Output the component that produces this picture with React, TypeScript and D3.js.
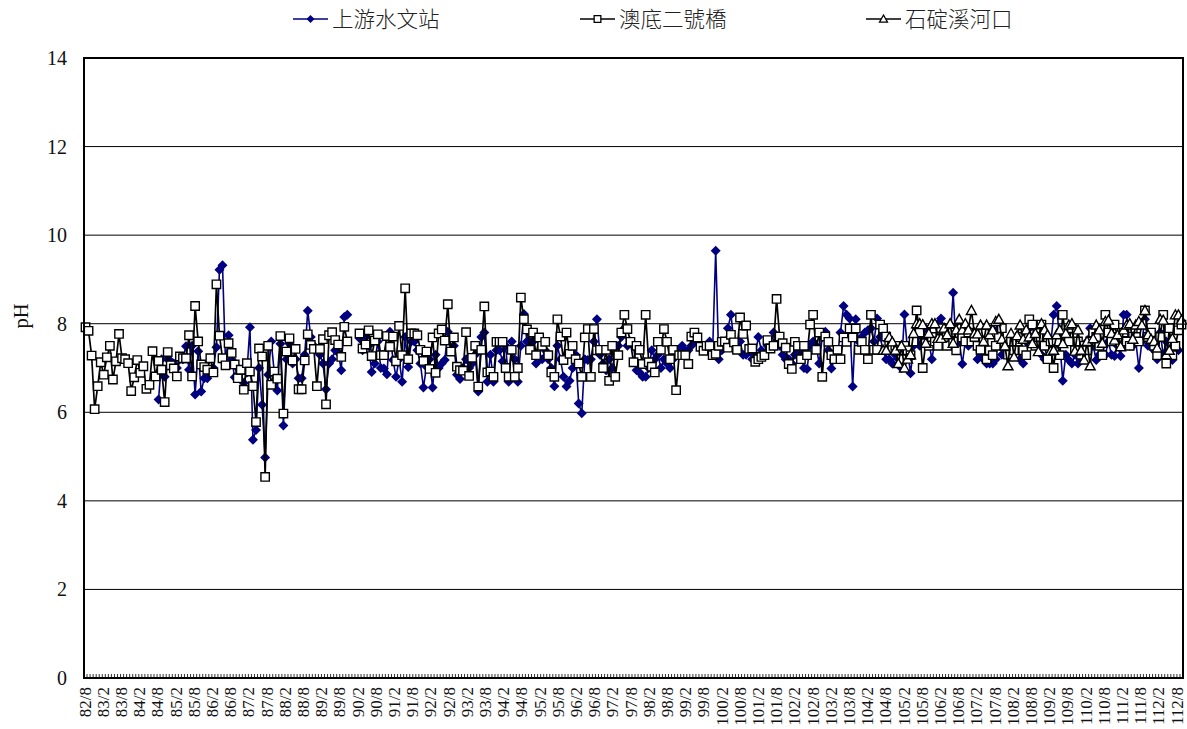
import React, { useEffect, useRef } from "react";
import * as d3 from "d3";

const tickLabels: string[] = [
  "82/8","83/2","83/8","84/2","84/8","85/2","85/8","86/2","86/8","87/2","87/8","88/2","88/8","89/2","89/8",
  "90/2","90/8","91/2","91/8","92/2","92/8","93/2","93/8","94/2","94/8","95/2","95/8","96/2","96/8","97/2","97/8",
  "98/2","98/8","99/2","99/8","100/2","100/8","101/2","101/8","102/2","102/8","103/2","103/8","104/2","104/8",
  "105/2","105/8","106/2","106/8","107/2","107/8","108/2","108/8","109/2","109/8","110/2","110/8","111/2","111/8","112/2","112/8",
];
const monthsPerLabel = 6;
const yTicks = [0, 2, 4, 6, 8, 10, 12, 14];

const upstreamStart = 24;
const upstream: (number | null)[] = [
  6.29,7.2,6.8,7.2,7.15,7.1,
  7.0,7.2,7.2,7.49,6.96,7.5,6.4,7.38,6.47,6.77,
  6.77,6.9,7.0,7.47,9.22,9.32,7.1,7.74,7.2,6.79,
  7.0,6.9,6.66,6.9,7.92,5.38,5.6,7.0,6.17,4.98,
  6.85,7.6,6.9,6.49,7.55,5.7,7.2,7.55,7.1,7.2,
  6.77,6.77,7.3,8.29,7.7,7.5,7.4,7.3,7.1,6.52,
  7.1,7.2,7.4,7.35,6.95,8.15,8.2,null,null,null,
  7.67,7.4,7.7,7.5,6.91,7.1,7.6,7.0,6.99,6.86,
  7.82,7.18,6.8,7.2,6.69,7.7,7.02,7.6,7.6,7.4,
  7.1,6.56,7.03,7.2,6.56,7.3,7.0,7.1,7.18,7.82,
  7.4,7.5,6.85,6.75,7.0,7.2,7.0,7.1,7.3,6.47,
  7.7,7.8,6.69,7.3,6.69,7.4,7.4,7.15,7.5,6.69,
  7.6,7.2,6.69,7.5,8.22,7.6,7.6,7.6,7.1,7.2,
  7.2,7.4,7.2,7.0,6.59,7.5,7.2,6.8,6.58,6.71,
  7.0,7.3,6.2,5.98,7.2,7.18,7.2,7.6,8.1,7.3,
  7.1,6.95,7.2,7.0,7.3,7.5,7.7,7.9,7.5,7.6,
  7.5,6.95,6.9,6.8,6.8,7.0,7.4,7.2,7.3,7.0,
  7.2,7.1,7.0,7.2,7.3,7.4,7.5,7.4,7.4,7.5,
  7.6,7.6,7.5,7.4,7.5,7.6,7.4,9.65,7.2,7.4,
  7.5,7.9,8.2,7.6,7.5,7.6,7.3,7.3,7.4,7.2,
  7.3,7.7,7.4,7.3,7.5,7.5,7.8,7.6,7.5,7.3,
  7.2,7.2,7.1,7.3,7.4,7.3,7.0,6.98,7.5,7.6,
  7.5,7.1,7.7,7.82,7.4,6.99,7.2,7.3,7.8,8.4,
  8.2,8.12,6.58,8.1,7.6,7.7,7.8,7.85,7.9,7.6,
  8.12,7.7,7.4,7.2,7.2,7.1,7.3,7.2,7.0,8.21,
  7.4,6.88,7.5,7.9,7.5,7.7,7.9,7.6,7.2,7.6,
  8.0,8.12,7.9,7.5,7.6,8.7,7.4,7.6,7.09,7.6,
  7.5,7.6,7.7,7.2,7.3,7.2,7.1,7.1,7.1,7.2,
  7.9,7.3,7.5,7.3,7.6,7.5,7.5,7.2,7.1,7.6,
  7.9,7.6,7.5,7.7,7.3,7.2,7.2,7.5,8.2,8.4,
  7.6,6.71,7.3,7.18,7.1,7.3,7.1,7.2,7.4,7.6,
  7.9,7.5,7.18,7.3,7.5,7.3,7.6,7.3,7.27,7.5,
  7.27,8.2,8.2,7.5,7.5,7.6,7.0,7.6,8.1,7.5,
  7.6,7.4,7.2,7.8,7.3,7.6,7.3,7.18,7.4,7.4,
];

const aodi: (number | null)[] = [
  7.92,7.84,7.28,6.07,6.59,7.13,6.85,7.24,7.5,6.74,
  7.15,7.77,7.22,7.2,7.11,6.48,6.79,7.18,6.89,7.04,
  6.53,6.62,7.38,6.81,7.16,6.96,6.23,7.36,7.06,6.99,
  6.81,7.26,7.22,7.22,7.74,6.81,8.4,7.6,7.08,7.02,
  6.96,7.22,6.9,8.89,7.73,7.22,7.06,7.56,7.34,7.08,
  6.77,6.96,6.51,7.11,6.92,6.59,5.78,7.44,7.26,4.54,
  7.5,6.62,6.92,6.76,7.72,5.97,7.37,7.67,7.17,7.43,
  6.52,6.52,7.17,7.76,7.52,7.43,6.59,7.43,7.65,6.18,
  7.74,7.81,7.63,7.53,7.25,7.93,7.6,null,null,null,
  7.78,7.44,7.53,7.85,7.27,7.62,7.76,7.29,7.29,7.72,
  7.48,7.71,7.15,7.95,7.29,8.8,7.2,7.78,7.78,7.74,
  7.41,7.16,7.37,6.98,7.69,6.89,7.78,7.87,7.62,8.44,
  7.37,7.69,7.03,6.95,6.94,7.81,6.82,7.23,7.5,6.58,
  7.41,8.39,6.9,6.92,6.8,7.59,7.59,7.59,7.0,6.8,
  7.41,6.8,7.0,8.59,8.1,7.87,7.41,7.8,7.29,7.69,
  7.5,7.59,7.29,6.9,6.8,8.1,7.71,7.18,7.8,7.32,
  7.5,7.2,7.1,6.8,7.69,7.88,6.8,7.88,7.4,7.41,
  7.0,7.41,6.71,7.5,6.8,7.29,7.8,8.2,7.88,7.59,
  7.13,7.5,7.41,7.09,8.2,7.13,7.03,6.9,7.59,7.41,
  7.88,7.59,7.2,7.41,6.5,7.29,7.29,7.29,7.09,7.71,
  7.8,7.69,7.48,7.39,7.5,7.5,7.29,7.32,7.5,7.59,
  7.6,7.46,7.75,7.58,7.41,8.14,7.77,7.96,7.43,7.44,
  7.14,7.2,7.25,7.29,7.63,7.44,7.5,8.56,7.71,7.56,
  7.46,7.09,6.98,7.59,7.5,7.2,7.5,7.29,7.98,8.2,
  7.41,7.8,6.8,7.71,7.59,7.29,7.2,7.41,7.2,7.69,
  7.59,7.89,7.69,7.89,7.41,7.59,7.41,7.2,8.2,7.41,
  7.41,7.98,7.89,7.71,7.56,7.45,7.5,7.4,7.2,7.5,
  7.4,7.29,7.6,8.3,7.8,7.0,7.56,7.5,7.7,7.6,
  7.5,7.9,7.7,7.5,7.8,7.6,7.4,7.9,7.69,7.6,
  7.8,7.6,7.7,7.5,7.41,7.6,7.2,7.4,7.29,7.5,
  7.7,7.9,7.5,7.3,7.6,7.4,7.6,7.7,7.4,7.29,
  8.1,7.98,7.5,7.7,7.98,7.5,7.2,7.6,7.0,7.6,
  7.29,8.2,7.7,7.6,7.9,7.4,7.6,7.3,7.5,7.4,
  7.6,7.8,7.7,7.5,7.29,8.2,7.8,7.6,7.98,7.7,
  7.5,7.8,7.6,7.5,7.9,7.7,7.6,8.0,8.3,7.7,
  7.8,7.5,7.29,7.7,8.2,7.1,7.9,7.29,7.5,7.85,
  7.98,
];

const shidingStart = 262;
const shiding: (number | null)[] = [
  7.4,7.4,7.69,7.59,7.4,7.1,7.5,7.0,
  7.2,7.3,7.78,8.0,8.0,7.98,7.56,7.78,8.0,8.0,
  7.67,7.67,7.9,7.75,8.0,7.56,7.86,8.1,7.86,8.0,
  7.86,8.3,7.78,7.77,7.97,7.6,7.97,7.75,7.86,8.05,
  8.1,7.65,7.5,7.05,7.78,7.25,7.73,7.97,7.65,7.86,
  7.7,7.55,7.78,7.37,8.0,7.86,7.75,7.38,7.4,7.75,
  7.86,7.55,7.78,7.97,8.0,7.38,7.86,7.4,7.18,7.6,
  7.05,7.66,7.97,7.86,7.56,8.05,8.08,7.78,7.63,7.75,
  7.48,7.86,7.97,8.0,7.65,7.97,8.05,7.97,8.3,7.75,
  7.65,7.6,7.45,8.1,8.08,7.3,7.4,7.67,8.2,8.2,
  8.08,
];

const legendNames = ["上游水文站", "澳底二號橋", "石碇溪河口"];
const navy = "#000080";

const W = 1187, H = 729;
const M = { left: 84, right: 1183, top: 58, bottom: 678 };

export default function App() {
  const ref = useRef<SVGSVGElement>(null);
  useEffect(() => {
    const svg = d3.select(ref.current!);
    svg.selectAll("*").remove();
    const monthCount = (tickLabels.length - 1) * monthsPerLabel + 1;
    const x = d3.scaleBand<number>().domain(d3.range(monthCount)).range([M.left, M.right]);
    const cx = (i: number) => x(i)! + x.bandwidth() / 2;
    const y = d3.scaleLinear().domain([0, 14]).range([M.bottom, M.top]);
    const labelX = d3.scaleLinear().domain([0, tickLabels.length - 1]).range([85, 1177]);
    const serif = "'Liberation Serif', serif";

    // gridlines
    svg.append("g").selectAll("line").data(yTicks.filter((t) => t > 0 && t < 14)).join("line")
      .attr("x1", M.left).attr("x2", M.right).attr("y1", (d) => y(d)).attr("y2", (d) => y(d))
      .attr("stroke", "#000").attr("stroke-width", 1);

    // y tick labels
    svg.append("g").selectAll("text").data(yTicks).join("text")
      .attr("x", 67).attr("y", (d) => y(d) + 7).attr("text-anchor", "end")
      .attr("font-family", serif).attr("font-size", 20).attr("fill", "#111").text((d) => d);

    svg.append("text").attr("transform", "translate(28,316) rotate(-90)")
      .attr("text-anchor", "middle").attr("font-family", serif).attr("font-size", 20.5).attr("fill", "#111").text("pH");

    // minor ticks
    svg.append("g").selectAll("line").data(d3.range(monthCount + 1)).join("line")
      .attr("x1", (d) => M.left + d * x.step()).attr("x2", (d) => M.left + d * x.step())
      .attr("y1", M.bottom).attr("y2", M.bottom - 4).attr("stroke", "#000").attr("stroke-width", 0.8);

    // x labels
    svg.append("g").selectAll("text").data(tickLabels).join("text")
      .attr("transform", (_, i) => `translate(${labelX(i) + 5.5},${M.bottom + 9}) rotate(-90)`)
      .attr("text-anchor", "end").attr("font-family", serif).attr("font-size", 17).attr("fill", "#111").text((d) => d);

    type P = { i: number; v: number | null };
    const toPts = (arr: (number | null)[], start: number): P[] => arr.map((v, k) => ({ i: k + start, v }));
    const line = d3.line<P>().defined((d) => d.v != null).x((d) => cx(d.i)).y((d) => y(d.v as number));

    const diamond = "M0,-5L5,0L0,5L-5,0Z";
    const square = "M-4.2,-4.2H4.2V4.2H-4.2Z";
    const triangle = "M0,-5L5,4H-5Z";

    const series = [
      { data: toPts(upstream, upstreamStart), color: navy, path: diamond, fill: navy, stroke: navy, w: 1.6 },
      { data: toPts(aodi, 0), color: "#000", path: square, fill: "#fff", stroke: "#000", w: 1.7 },
      { data: toPts(shiding, shidingStart), color: "#000", path: triangle, fill: "#fff", stroke: "#000", w: 1.7 },
    ];

    series.forEach((s) => {
      const g = svg.append("g");
      g.append("path").attr("d", line(s.data)!).attr("fill", "none").attr("stroke", s.color).attr("stroke-width", s.w);
      g.selectAll("path.m").data(s.data.filter((d) => d.v != null)).join("path").attr("class", "m")
        .attr("d", s.path).attr("transform", (d) => `translate(${cx(d.i)},${y(d.v as number)})`)
        .attr("fill", s.fill).attr("stroke", s.stroke).attr("stroke-width", s.fill === navy ? 0 : 1.4);
    });

    // frame
    svg.append("rect").attr("x", M.left).attr("y", M.top).attr("width", M.right - M.left).attr("height", M.bottom - M.top)
      .attr("fill", "none").attr("stroke", "#000").attr("stroke-width", 2);

    // legend
    const legX = [293, 580, 866];
    series.forEach((s, k) => {
      const g = svg.append("g").attr("transform", `translate(${legX[k]},19)`);
      g.append("line").attr("x1", 0).attr("x2", 35).attr("stroke", s.color).attr("stroke-width", 1.5);
      g.append("path").attr("d", s.path).attr("transform", "translate(17.5,0) scale(0.8)")
        .attr("fill", s.fill).attr("stroke", s.stroke).attr("stroke-width", s.fill === navy ? 0 : 1.6);
      g.append("text").attr("x", 39).attr("y", 8).attr("font-family", "'Noto Sans CJK TC', sans-serif").attr("font-weight", 300)
        .attr("font-size", 21.5).attr("fill", "#222").text(legendNames[k]);
    });
  }, []);
  return <svg ref={ref} width={W} height={H} style={{ position: "absolute", left: 0, top: 0, background: "#fff" }} />;
}
